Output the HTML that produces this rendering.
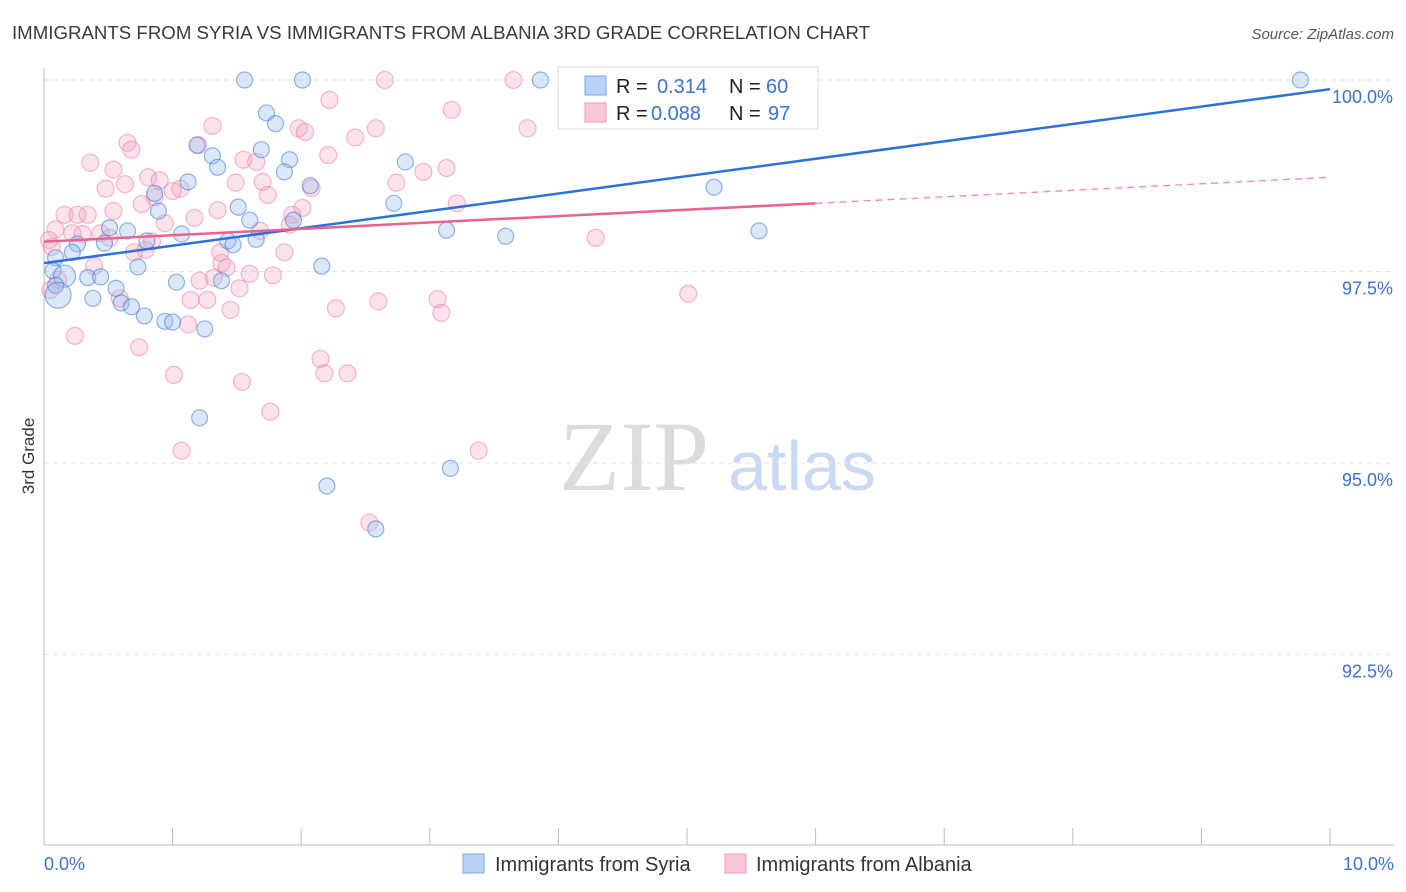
<!DOCTYPE html>
<html><head><meta charset="utf-8"><style>
body{margin:0;background:#fff;font-family:"Liberation Sans",sans-serif;}
</style></head><body>
<svg id="chart" width="1406" height="892" xmlns="http://www.w3.org/2000/svg" style="display:block">
<text x="12" y="39" font-size="18.6" fill="#3a3a3a" textLength="858" lengthAdjust="spacingAndGlyphs" font-family="Liberation Sans, sans-serif">IMMIGRANTS FROM SYRIA VS IMMIGRANTS FROM ALBANIA 3RD GRADE CORRELATION CHART</text>
<text x="1394" y="39" font-size="15" fill="#555" font-style="italic" text-anchor="end">Source: ZipAtlas.com</text>
<text transform="translate(34,456) rotate(-90)" font-size="17" fill="#333" text-anchor="middle">3rd Grade</text>
<g>
<text x="634" y="490" font-size="100" fill="#dcdcdc" font-family="Liberation Serif, serif" text-anchor="middle">ZIP</text>
<text x="802" y="490" font-size="70" fill="#c9daf2" text-anchor="middle">atlas</text>
</g>
<g id="grid"></g>
<g id="axes"></g>
<g id="pts"></g>
<g id="lines"></g>
<g>
<rect x="558" y="67" width="260" height="62" fill="#fff" stroke="#d8d8d8"/>
<rect x="585" y="76" width="21" height="19" fill="#b8d3f5" stroke="#7aa6e6"/>
<rect x="585" y="103" width="21" height="19" fill="#f9c8d6" stroke="#f09ab3"/>
<text x="616" y="93" font-size="20" fill="#222">R = </text><text x="657" y="93" font-size="20" fill="#3a73d0">0.314</text>
<text x="729" y="93" font-size="20" fill="#222">N = </text><text x="766" y="93" font-size="20" fill="#3a73d0">60</text>
<text x="616" y="120" font-size="20" fill="#222">R = </text><text x="651" y="120" font-size="20" fill="#3a73d0">0.088</text>
<text x="729" y="120" font-size="20" fill="#222">N = </text><text x="768" y="120" font-size="20" fill="#3a73d0">97</text>
</g>
<g>
<rect x="463" y="854" width="21" height="19" fill="#b8d3f5" stroke="#7aa6e6"/>
<text x="495" y="871" font-size="20" fill="#333">Immigrants from Syria</text>
<rect x="725" y="854" width="21" height="19" fill="#f9c8d6" stroke="#f09ab3"/>
<text x="756" y="871" font-size="20" fill="#333">Immigrants from Albania</text>
</g>
</svg>
<script>
const yTicks=[92.5,95.0,97.5,100.0];
const yTickLabels=["92.5%","95.0%","97.5%","100.0%"];
const xTicks=[0,1,2,3,4,5,6,7,8,9,10];
const xEndLabels=["0.0%","10.0%"];
const syriaX=[1.56,2.01,3.86,9.77,5.82,1.73,1.80,1.19,1.31,1.69,1.91,1.35,1.87,2.81,1.12,2.07,0.86,5.21,1.51,0.89,2.72,1.60,1.94,0.51,0.65,1.07,3.13,3.59,5.56,0.80,1.43,1.65,1.47,0.47,0.26,0.22,0.09,0.07,0.73,2.16,0.16,0.34,0.44,1.03,1.38,0.09,0.11,0.56,0.38,0.60,0.68,0.78,0.94,1.00,1.25,1.21,3.16,2.20,2.58];
const syriaY=[100,100,100,100,100,99.57,99.43,99.15,99.01,99.09,98.96,98.86,98.80,98.93,98.67,98.62,98.52,98.60,98.34,98.29,98.39,98.17,98.17,98.07,98.03,97.99,98.04,97.96,98.03,97.90,97.90,97.92,97.85,97.87,97.86,97.75,97.68,97.51,97.56,97.57,97.44,97.42,97.43,97.36,97.38,97.32,97.19,97.28,97.15,97.09,97.04,96.92,96.85,96.84,96.75,95.59,94.93,94.70,94.14];
const syriaSize=[8,8,8,8,8,8,8,8,8,8,8,8,8,8,8,8,8,8,8,8,8,8,8,8,8,8,8,8,8,8,8,8,8,8,8,8,8,8,8,8,11,8,8,8,8,8,13,8,8,8,8,8,8,8,8,8,8,8,8];
const albX=[2.65,3.65,5.22,2.22,3.17,3.76,2.58,1.31,1.98,2.03,2.42,0.65,1.20,0.68,2.21,0.36,1.55,1.65,0.54,3.13,2.95,0.81,0.90,1.70,0.63,1.49,2.74,0.48,1.06,1.00,2.08,1.74,0.86,0.76,3.21,1.35,2.01,0.54,0.16,0.26,0.34,1.93,1.17,0.94,1.91,1.68,0.09,0.22,0.30,0.44,0.51,0.04,0.84,0.06,0.79,1.37,1.87,4.29,0.70,1.38,1.42,0.39,1.60,1.78,1.32,1.21,1.52,0.11,0.05,5.01,1.14,1.27,0.59,2.60,3.06,2.27,1.45,3.09,1.12,0.24,0.74,2.15,2.18,2.36,1.01,1.54,1.76,1.07,3.38,2.53];
const albY=[100,100,100,99.74,99.61,99.37,99.37,99.40,99.37,99.32,99.25,99.18,99.15,99.09,99.02,98.92,98.96,98.93,98.83,98.85,98.80,98.73,98.69,98.67,98.64,98.66,98.66,98.58,98.58,98.55,98.59,98.50,98.47,98.38,98.39,98.30,98.33,98.29,98.24,98.24,98.24,98.24,98.20,98.13,98.11,98.03,98.05,98.00,97.99,98.00,97.94,97.91,97.89,97.82,97.78,97.75,97.75,97.94,97.75,97.61,97.55,97.57,97.47,97.45,97.42,97.38,97.28,97.39,97.26,97.21,97.13,97.13,97.15,97.11,97.14,97.02,97.00,96.96,96.81,96.66,96.51,96.36,96.17,96.17,96.15,96.06,95.67,95.16,95.16,94.22];
const syriaTrend=[[0,97.61],[10,99.88]];
const albTrendSolid=[[0,97.89],[6,98.39]];
const albTrendDashed=[[6,98.39],[10,98.73]];

const NS="http://www.w3.org/2000/svg";
const X=v=>44+v*128.6;
const Y=v=>80+(100-v)*76.6;
function mk(tag,attrs,parent){const e=document.createElementNS(NS,tag);for(const k in attrs)e.setAttribute(k,attrs[k]);parent.appendChild(e);return e;}
const grid=document.getElementById('grid'),axes=document.getElementById('axes'),pts=document.getElementById('pts'),lines=document.getElementById('lines');
yTicks.forEach((t,i)=>{
  const l=mk('line',{x1:44,x2:1394,y1:Y(t),y2:Y(t),stroke:'#e2e2e2','stroke-dasharray':'5,4'},grid);
  
  
  const tx=mk('text',{x:1393,y:Y(t)+23,'font-size':18,fill:'#3a73d0','text-anchor':'end'},axes);
  tx.textContent=yTickLabels[i];
  
  
});
const ax=mk('line',{x1:44,x2:44,y1:68,y2:845,stroke:'#bbb'},axes);


const bx=mk('line',{x1:44,x2:1394,y1:845,y2:845,stroke:'#bbb'},axes);


xTicks.forEach(t=>{
  const l=mk('line',{x1:X(t),x2:X(t),y1:828,y2:845,stroke:'#bbb'},axes);
  
  
});
const xl0=mk('text',{x:44,y:870,'font-size':18,fill:'#3a73d0'},axes);xl0.textContent=xEndLabels[0];


const xl1=mk('text',{x:1394,y:870,'font-size':18,fill:'#3a73d0','text-anchor':'end'},axes);xl1.textContent=xEndLabels[1];



albX.forEach((v,i)=>{
  const c=mk('circle',{cx:X(v),cy:Y(albY[i]),r:8.5,fill:'rgba(246,160,186,0.3)',stroke:'rgba(236,120,155,0.5)','stroke-width':1.2},pts);
  
  
});
syriaX.forEach((v,i)=>{
  const c=mk('circle',{cx:X(v),cy:Y(syriaY[i]),r:syriaSize[i],fill:'rgba(150,190,240,0.35)',stroke:'rgba(60,120,210,0.55)','stroke-width':1.2},pts);
  
  
});
const sl=mk('line',{x1:X(syriaTrend[0][0]),y1:Y(syriaTrend[0][1]),x2:X(syriaTrend[1][0]),y2:Y(syriaTrend[1][1]),stroke:'#2e6fd8','stroke-width':2.5},lines);


const al=mk('line',{x1:X(albTrendSolid[0][0]),y1:Y(albTrendSolid[0][1]),x2:X(albTrendSolid[1][0]),y2:Y(albTrendSolid[1][1]),stroke:'#e8648e','stroke-width':2.5},lines);


const ad=mk('line',{x1:X(albTrendDashed[0][0]),y1:Y(albTrendDashed[0][1]),x2:X(albTrendDashed[1][0]),y2:Y(albTrendDashed[1][1]),stroke:'#ec8aa8','stroke-width':1.3,'stroke-dasharray':'7,5'},lines);


</script>
</body></html>
